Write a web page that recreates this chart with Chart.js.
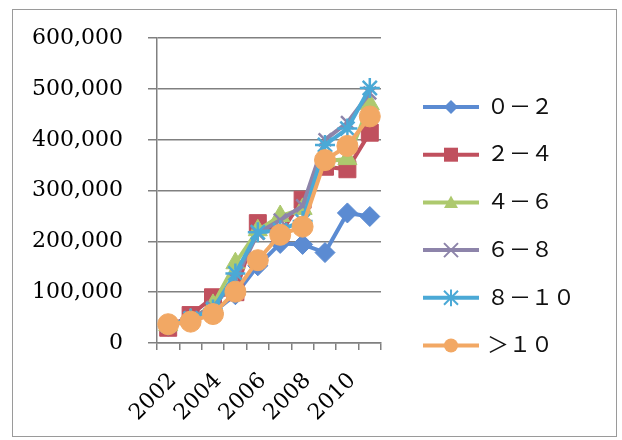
<!DOCTYPE html>
<html>
<head>
<meta charset="utf-8">
<script src="https://cdn.jsdelivr.net/npm/chart.js@4.4.0/dist/chart.umd.min.js"></script>
<style>
  html, body { margin: 0; padding: 0; background: #fff; }
  #wrap { position: relative; width: 622px; height: 440px; }
</style>
</head>
<body>
<div id="wrap"><canvas id="age-chart"></canvas></div>
<script>
// years on the x axis
const years = ['2002','2003','2004','2005','2006','2007','2008','2009','2010','2011'];

// one series per group
const group0to2   = [33000, 45000, 60000, 95000, 152000, 196000, 194000, 178000, 256000, 249000];
const group2to4   = [30000, 55000, 90000, 100000, 236000, 216000, 282000, 347000, 342000, 414000];
const group4to6   = [35000, 46000, 75000, 157000, 222000, 250000, 264000, 358000, 362000, 470000];
const group6to8   = [34000, 50000, 70000, 125000, 216000, 242000, 270000, 400000, 434000, 492000];
const group8to10  = [35000, 48000, 66000, 137000, 218000, 222000, 240000, 390000, 422000, 502000];
const groupOver10 = [37000, 42000, 57000, 101000, 163000, 213000, 229000, 360000, 388000, 446000];

const seriesNames = ['０－２', '２－４', '４－６', '６－８', '８－１０', '＞１０'];
const yTicks = [0, 100000, 200000, 300000, 400000, 500000, 600000];

const colors = ['#5b8bd2', '#c0505e', '#adc96e', '#8d84aa', '#4ba9d6', '#f2a864'];
const shapes = ['rectRot', 'rect', 'triangle', 'crossRot', 'star', 'circle'];
const radii  = [10, 12, 11, 9, 10, 10.5];
const allData = [group0to2, group2to4, group4to6, group6to8, group8to10, groupOver10];

const fontFamily = '"DejaVu Serif", "Noto Sans CJK JP", serif';

let datasets = [];
for (let i = 0; i < allData.length; i++) {
    datasets.push({
        label: seriesNames[i],
        data: allData[i],
        borderColor: colors[i],
        backgroundColor: colors[i],
        pointBackgroundColor: colors[i],
        pointBorderColor: colors[i],
        pointStyle: shapes[i],
        pointRadius: radii[i],
        pointBorderWidth: (shapes[i] == 'crossRot' || shapes[i] == 'star') ? 2.5 : 1,
        borderWidth: 4,
        tension: 0,
        order: allData.length - i   // later series drawn on top
    });
}

// little marker drawer for the legend
function drawMarker(ctx, shape, x, y, r, color) {
    ctx.save();
    ctx.fillStyle = color;
    ctx.strokeStyle = color;
    ctx.lineWidth = 2;
    ctx.beginPath();
    if (shape == 'rectRot') {
        ctx.moveTo(x, y - r); ctx.lineTo(x + r, y); ctx.lineTo(x, y + r); ctx.lineTo(x - r, y);
        ctx.closePath(); ctx.fill();
    } else if (shape == 'rect') {
        ctx.rect(x - r, y - r, r * 2, r * 2); ctx.fill();
    } else if (shape == 'triangle') {
        ctx.moveTo(x, y - r); ctx.lineTo(x + r, y + r * 0.8); ctx.lineTo(x - r, y + r * 0.8);
        ctx.closePath(); ctx.fill();
    } else if (shape == 'crossRot') {
        ctx.moveTo(x - r, y - r); ctx.lineTo(x + r, y + r);
        ctx.moveTo(x + r, y - r); ctx.lineTo(x - r, y + r); ctx.stroke();
    } else if (shape == 'star') {
        ctx.moveTo(x - r, y - r); ctx.lineTo(x + r, y + r);
        ctx.moveTo(x + r, y - r); ctx.lineTo(x - r, y + r);
        ctx.moveTo(x, y - r * 1.2); ctx.lineTo(x, y + r * 1.2); ctx.stroke();
    } else {
        ctx.arc(x, y, r, 0, Math.PI * 2); ctx.fill();
    }
    ctx.restore();
}

const frameAndLegend = {
    id: 'frameAndLegend',
    beforeDraw(chart) {
        const ctx = chart.ctx;
        ctx.save();
        ctx.fillStyle = '#fff';
        ctx.fillRect(0, 0, chart.width, chart.height);
        ctx.strokeStyle = '#9a9a9a';
        ctx.lineWidth = 1;
        ctx.strokeRect(12.5, 9.5, 604, 427);
        ctx.restore();
    },
    afterDraw(chart) {
        const ctx = chart.ctx;
        const top = 107, gap = 47.7;
        chart.data.datasets.forEach(function (ds, i) {
            const y = top + i * gap;
            ctx.save();
            ctx.strokeStyle = ds.borderColor;
            ctx.lineWidth = 4;
            ctx.beginPath();
            ctx.moveTo(423, y);
            ctx.lineTo(479, y);
            ctx.stroke();
            ctx.restore();
            drawMarker(ctx, ds.pointStyle, 451, y, 7, ds.borderColor);
            ctx.save();
            ctx.fillStyle = '#111';
            ctx.font = '22px ' + fontFamily;
            ctx.textBaseline = 'middle';
            ctx.fillText(ds.label, 487, y + 1);
            ctx.restore();
        });
    }
};

const chartConfig = {
    type: 'line',
    data: { labels: years, datasets: datasets },
    options: {
        responsive: false,
        animation: false,
        layout: { padding: { top: 38, right: 241, bottom: 0, left: 0 } },
        plugins: { legend: { display: false }, tooltip: { enabled: false } },
        scales: {
            x: {
                offset: true,
                grid: { offset: true, drawOnChartArea: false, drawTicks: true, tickLength: 7, color: '#808080', lineWidth: 1.5 },
                border: { color: '#808080', width: 1.5 },
                ticks: {
                    autoSkip: false,
                    maxRotation: 45,
                    minRotation: 45,
                    padding: 18,
                    labelOffset: 5,
                    color: '#000',
                    font: { family: fontFamily, size: 22 },
                    callback: function (v, idx) { return idx % 2 == 0 ? years[idx] : ''; }
                },
                afterFit: function (scale) { scale.height = 97; }
            },
            y: {
                min: 0,
                max: 600000,
                afterBuildTicks: function (scale) { scale.ticks = yTicks.map(v => ({ value: v })); },
                grid: { color: '#808080', lineWidth: 1.5, tickLength: 9 },
                border: { color: '#808080', width: 1.5 },
                ticks: {
                    padding: 25,
                    color: '#000',
                    font: { family: fontFamily, size: 22 },
                    callback: function (v) { return v.toLocaleString('en-US'); }
                },
                afterFit: function (scale) { scale.width = 157; }
            }
        }
    },
    plugins: [frameAndLegend]
};

const canvas = document.getElementById('age-chart');
canvas.width = 622;
canvas.height = 440;
const ageChart = new Chart(canvas, chartConfig);
</script>
</body>
</html>
